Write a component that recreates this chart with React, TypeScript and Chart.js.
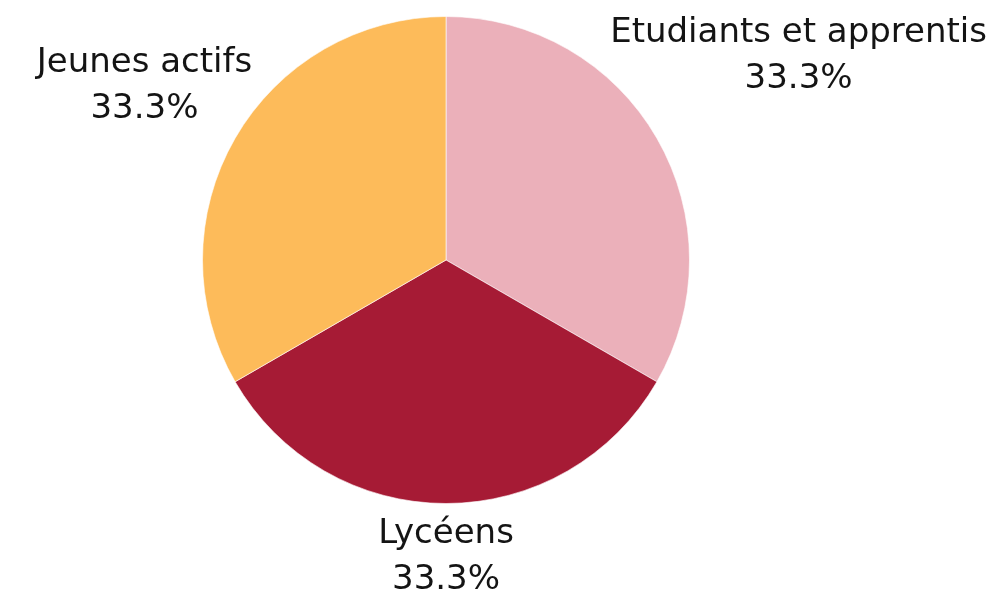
import React, { useEffect, useRef } from "react";
import { Chart, registerables } from "chart.js";

Chart.register(...registerables);

const categories = ["Etudiants et apprentis", "Lycéens", "Jeunes actifs"];
const values = [1, 1, 1];
const percentLabels = ["33.3%", "33.3%", "33.3%"];
const colors = ["#EBB0BA", "#A61B35", "#FDBB5A"];

// distance of each label centre from the pie centre, in pie radii
const labelDistance = [1.672, 1.221, 1.43];

const FONT = "34px 'DejaVu Sans', sans-serif";
const LINE_GAP = 46;

const outsideLabels = {
  id: "outsideLabels",
  afterDraw(chart: any) {
    const ctx = chart.ctx;
    const meta = chart.getDatasetMeta(0);
    ctx.save();
    ctx.font = FONT;
    ctx.fillStyle = "#141414";
    ctx.textAlign = "center";
    ctx.textBaseline = "middle";
    meta.data.forEach((arc: any, i: number) => {
      const p = arc.getProps(["x", "y", "startAngle", "endAngle", "outerRadius"], true);
      const mid = (p.startAngle + p.endAngle) / 2;
      const d = p.outerRadius * labelDistance[i];
      const cx = p.x + Math.cos(mid) * d;
      const cy = p.y + Math.sin(mid) * d;
      ctx.fillText(categories[i], cx, cy - LINE_GAP / 2);
      ctx.fillText(percentLabels[i], cx, cy + LINE_GAP / 2);
    });
    ctx.restore();
  },
};

export default function App() {
  const ref = useRef<HTMLCanvasElement | null>(null);
  useEffect(() => {
    document.body.style.margin = "0";
    const chart = new Chart(ref.current as HTMLCanvasElement, {
      type: "pie",
      data: {
        labels: categories,
        datasets: [
          {
            data: values,
            backgroundColor: colors,
            borderColor: "rgba(255,255,255,0.6)",
            borderWidth: 1,
          },
        ],
      },
      options: {
        animation: false,
        responsive: false,
        layout: { padding: { left: 202, right: 313, top: 16, bottom: 94 } },
        plugins: { legend: { display: false }, tooltip: { enabled: false } },
      },
      plugins: [outsideLabels],
    });
    return () => chart.destroy();
  }, []);
  return (
    <div style={{ position: "absolute", left: 0, top: 0, width: 1003, height: 598, background: "#fff" }}>
      <canvas ref={ref} width={1003} height={598} style={{ width: 1003, height: 598 }} />
    </div>
  );
}
